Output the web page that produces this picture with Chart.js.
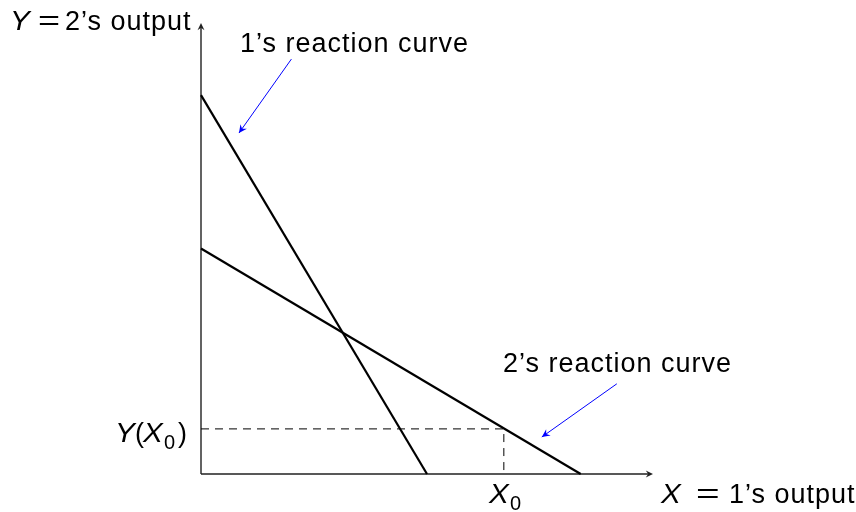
<!DOCTYPE html>
<html>
<head>
<meta charset="utf-8">
<script src="https://cdn.jsdelivr.net/npm/chart.js@4.4.1/dist/chart.umd.min.js"></script>
<style>
  html, body { margin: 0; padding: 0; background: #fff; }
  #wrap { width: 856px; height: 512px; position: relative; }
</style>
</head>
<body>
<div id="wrap"><canvas id="chart"></canvas></div>
<script>
// Reaction curves (output units, both axes 0..10)
const curve1X = [0, 5.0];
const curve1Y = [8.4, 0];
const curve2X = [0, 8.4];
const curve2Y = [5.0, 0];

// Chosen output of firm 1 and the best response of firm 2
const x0 = 6.7;
const yOfX0 = 1.0;

// Pointer arrows: [tailX, tailY, headX, headY]
const pointer1 = [2.0, 9.2, 0.84, 7.56];
const pointer2 = [9.2, 2.0, 7.54, 0.82];

const toPoints = (xs, ys) => xs.map((x, i) => ({ x: x, y: ys[i] }));

const SANS = '"Liberation Sans", Arial, sans-serif';
const F = 27;

function arrowHead(ctx, x1, y1, x2, y2, len, color) {
    const a = Math.atan2(y2 - y1, x2 - x1);
    ctx.save();
    ctx.fillStyle = color;
    ctx.beginPath();
    ctx.moveTo(x2, y2);
    ctx.lineTo(x2 - len * Math.cos(a - 0.45), y2 - len * Math.sin(a - 0.45));
    ctx.lineTo(x2 - len * 0.6 * Math.cos(a), y2 - len * 0.6 * Math.sin(a));
    ctx.lineTo(x2 - len * Math.cos(a + 0.45), y2 - len * Math.sin(a + 0.45));
    ctx.closePath();
    ctx.fill();
    ctx.restore();
}

// piece: { t, it: italic, dy, size, ls: letter spacing, at: x offset from start, sx: horizontal stretch }
function drawRich(ctx, parts, x, y) {
    let cx = x;
    parts.forEach(p => {
        ctx.font = (p.it ? 'italic ' : '') + (p.size || F) + 'px ' + SANS;
        ctx.letterSpacing = p.ls || '0px';
        if (p.at !== undefined) cx = x + p.at;
        const sx = p.sx || 1;
        ctx.save();
        ctx.translate(cx, y + (p.dy || 0));
        ctx.scale(sx, 1);
        ctx.fillText(p.t, 0, 0);
        ctx.restore();
        cx += ctx.measureText(p.t).width * sx;
    });
    ctx.letterSpacing = '0px';
}

const axesPlugin = {
    id: 'axesAndLabels',
    beforeDatasetsDraw(chart) {
        const ctx = chart.ctx;
        const xs = chart.scales.x, ys = chart.scales.y;
        const ox = xs.getPixelForValue(0), oy = ys.getPixelForValue(0);
        const xEnd = xs.getPixelForValue(10), yEnd = ys.getPixelForValue(10);

        ctx.save();
        ctx.strokeStyle = '#222';
        ctx.lineWidth = 1.4;
        ctx.beginPath();
        ctx.moveTo(ox, oy);
        ctx.lineTo(xEnd - 2, oy);
        ctx.moveTo(ox, oy);
        ctx.lineTo(ox, yEnd + 2);
        ctx.stroke();
        arrowHead(ctx, ox, oy, xEnd, oy, 8, '#222');
        arrowHead(ctx, ox, oy, ox, yEnd, 8, '#222');
        ctx.restore();
    },
    afterDatasetsDraw(chart) {
        const ctx = chart.ctx;
        const xs = chart.scales.x, ys = chart.scales.y;

        // blue pointers
        [pointer1, pointer2].forEach(p => {
            const x1 = xs.getPixelForValue(p[0]), y1 = ys.getPixelForValue(p[1]);
            const x2 = xs.getPixelForValue(p[2]), y2 = ys.getPixelForValue(p[3]);
            ctx.save();
            ctx.strokeStyle = '#0000ff';
            ctx.lineWidth = 1;
            ctx.beginPath();
            ctx.moveTo(x1, y1);
            ctx.lineTo(x2, y2);
            ctx.stroke();
            arrowHead(ctx, x1, y1, x2, y2, 9, '#0000ff');
            ctx.restore();
        });

        ctx.save();
        ctx.fillStyle = '#000';
        ctx.textBaseline = 'alphabetic';
        ctx.textAlign = 'left';
        drawRich(ctx, [
            { t: 'Y', it: true, sx: 1.1 },
            { t: '=', at: 28, sx: 1.4 },
            { t: '2\u2019s output', at: 55, ls: '1px' }
        ], 10, 30);
        drawRich(ctx, [
            { t: 'X', it: true, sx: 1.1 },
            { t: '=', at: 35, sx: 1.5 },
            { t: '1\u2019s output', at: 68, ls: '1px' }
        ], 661, 503);
        drawRich(ctx, [{ t: '1\u2019s reaction curve', ls: '1px' }], 240, 52);
        drawRich(ctx, [{ t: '2\u2019s reaction curve', ls: '1px' }], 503, 372);
        drawRich(ctx, [
            { t: 'Y', it: true, sx: 1.1 }, { t: '(', at: 20 }, { t: 'X', it: true, at: 28, sx: 1.1 },
            { t: '0', dy: 7, size: 20, at: 49 }, { t: ')', at: 63 }
        ], 115, 442);
        drawRich(ctx, [{ t: 'X', it: true, sx: 1.1 }, { t: '0', dy: 7, size: 20, at: 21 }], 489, 503);
        ctx.restore();
    }
};

new Chart(document.getElementById('chart'), {
    type: 'scatter',
    data: {
        datasets: [
            {
                data: toPoints(curve1X, curve1Y),
                showLine: true, borderColor: '#000', borderWidth: 2.2,
                pointRadius: 0, clip: false
            },
            {
                data: toPoints(curve2X, curve2Y),
                showLine: true, borderColor: '#000', borderWidth: 2.2,
                pointRadius: 0, clip: false
            },
            {
                // dashed guide lines to X0 and Y(X0)
                data: [{ x: 0, y: yOfX0 }, { x: x0, y: yOfX0 }, { x: x0, y: 0 }],
                showLine: true, borderColor: '#000', borderWidth: 1,
                borderDash: [8, 6], pointRadius: 0, clip: false
            }
        ]
    },
    options: {
        responsive: true,
        maintainAspectRatio: false,
        animation: false,
        layout: { padding: { left: 201, right: 203, top: 23, bottom: 38 } },
        plugins: {
            legend: { display: false },
            tooltip: { enabled: false }
        },
        scales: {
            x: { type: 'linear', min: 0, max: 10, display: false },
            y: { type: 'linear', min: 0, max: 10, display: false }
        }
    },
    plugins: [axesPlugin]
});
</script>
</body>
</html>
